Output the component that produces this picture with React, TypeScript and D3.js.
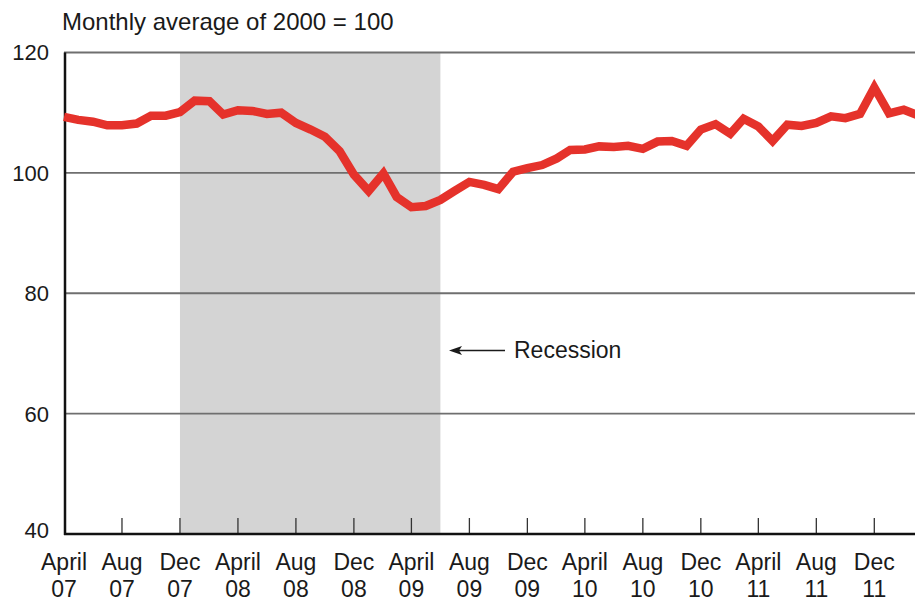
import React, { useEffect, useRef } from 'react';
import * as d3 from 'd3';

// monthly index, April 2007 .. March 2012
const startMonth = '2007-04';
const values: number[] = [
  109.3, 108.8, 108.5, 107.9, 107.9, 108.2, 109.5, 109.5, 110.1,
  112.0, 111.9, 109.7, 110.4, 110.3, 109.8, 110.0, 108.3, 107.2, 106.0, 103.6, 99.7,
  97.0, 99.9, 96.0, 94.3, 94.5, 95.5, 97.0, 98.5, 98.0, 97.3, 100.2, 100.8,
  101.3, 102.4, 103.8, 103.9, 104.4, 104.3, 104.5, 104.0, 105.2, 105.3, 104.5, 107.2,
  108.1, 106.5, 109.0, 107.7, 105.3, 108.0, 107.8, 108.3, 109.4, 109.1, 109.8, 114.2,
  109.9, 110.5, 109.6,
];

const recession = ['2007-12', '2009-06'];

const yTicks = [40, 60, 80, 100, 120];
const xTickDates = [
  '2007-04', '2007-08', '2007-12', '2008-04', '2008-08', '2008-12', '2009-04', '2009-08',
  '2009-12', '2010-04', '2010-08', '2010-12', '2011-04', '2011-08', '2011-12',
];
const xTickMonth = ['April', 'Aug', 'Dec', 'April', 'Aug', 'Dec', 'April', 'Aug', 'Dec', 'April', 'Aug', 'Dec', 'April', 'Aug', 'Dec'];
const xTickYear = ['07', '07', '07', '08', '08', '08', '09', '09', '09', '10', '10', '10', '11', '11', '11'];

const parseMonth = d3.timeParse('%Y-%m');

const Chart: React.FC = () => {
  const svgRef = useRef<SVGSVGElement>(null);

  useEffect(() => {
    if (!svgRef.current) return;
    const svg = d3.select(svgRef.current);
    svg.selectAll('*').remove();

    const W = 915;
    const H = 601;
    const font = 'Arial, "Liberation Sans", Helvetica, sans-serif';

    const start = parseMonth(startMonth)!;
    const data = values.map((v, i) => ({ date: d3.timeMonth.offset(start, i), value: v }));

    const x = d3
      .scaleTime()
      .domain([parseMonth('2007-04')!, parseMonth('2011-12')!])
      .range([64, 874.3]);
    const y = d3.scaleLinear().domain([40, 120]).range([534, 52.5]);
    const xRight = W;

    svg.attr('width', W).attr('height', H);

    svg.append('rect').attr('width', W).attr('height', H).attr('fill', '#ffffff');

    // recession shading
    svg
      .append('rect')
      .attr('x', x(parseMonth(recession[0])!))
      .attr('y', y(120))
      .attr('width', x(parseMonth(recession[1])!) - x(parseMonth(recession[0])!))
      .attr('height', y(40) - y(120))
      .attr('fill', '#d4d4d4');

    // grid lines
    svg
      .append('g')
      .selectAll('line')
      .data(yTicks.filter(t => t > 40))
      .join('line')
      .attr('x1', x.range()[0])
      .attr('x2', xRight)
      .attr('y1', d => y(d))
      .attr('y2', d => y(d))
      .attr('stroke', '#6f6f6f')
      .attr('stroke-width', 1.8);

    // y labels
    svg
      .append('g')
      .selectAll('text')
      .data(yTicks)
      .join('text')
      .attr('x', 49)
      .attr('y', d => y(d) - (d === 40 ? 4 : 0))
      .attr('dy', '0.36em')
      .attr('text-anchor', 'end')
      .attr('font-family', font)
      .attr('font-size', 22)
      .attr('fill', '#1a1a1a')
      .text(d => d);

    // x ticks
    const tickDates = xTickDates.map(d => parseMonth(d)!);
    svg
      .append('g')
      .selectAll('line')
      .data(tickDates.slice(1))
      .join('line')
      .attr('x1', d => x(d))
      .attr('x2', d => x(d))
      .attr('y1', y(40))
      .attr('y2', y(40) - 16)
      .attr('stroke', '#333')
      .attr('stroke-width', 1.3);

    const labels = svg
      .append('g')
      .selectAll('g')
      .data(tickDates)
      .join('g')
      .attr('transform', d => `translate(${x(d)},0)`);
    labels
      .append('text')
      .attr('y', 570)
      .attr('text-anchor', 'middle')
      .attr('font-family', font)
      .attr('font-size', 23)
      .attr('fill', '#1a1a1a')
      .text((d, i) => xTickMonth[i]);
    labels
      .append('text')
      .attr('y', 597)
      .attr('text-anchor', 'middle')
      .attr('font-family', font)
      .attr('font-size', 23)
      .attr('fill', '#1a1a1a')
      .text((d, i) => xTickYear[i]);

    // axes
    svg
      .append('line')
      .attr('x1', x.range()[0])
      .attr('x2', xRight)
      .attr('y1', y(40))
      .attr('y2', y(40))
      .attr('stroke', '#111')
      .attr('stroke-width', 2.5);
    svg
      .append('line')
      .attr('x1', 65)
      .attr('x2', 65)
      .attr('y1', y(120))
      .attr('y2', y(40) + 1)
      .attr('stroke', '#111')
      .attr('stroke-width', 2.5);

    // data line
    const line = d3
      .line<{ date: Date; value: number }>()
      .x(d => x(d.date))
      .y(d => y(d.value));
    svg
      .append('path')
      .datum(data)
      .attr('d', line)
      .attr('fill', 'none')
      .attr('stroke', '#e5322b')
      .attr('stroke-width', 8.5)
      .attr('stroke-linejoin', 'miter');

    // title
    svg
      .append('text')
      .attr('x', 62)
      .attr('y', 30)
      .attr('font-family', font)
      .attr('font-size', 24)
      .attr('fill', '#1a1a1a')
      .text('Monthly average of 2000 = 100');

    // recession annotation
    const ay = 350.5;
    svg
      .append('line')
      .attr('x1', 455)
      .attr('x2', 505)
      .attr('y1', ay)
      .attr('y2', ay)
      .attr('stroke', '#1a1a1a')
      .attr('stroke-width', 1.5);
    svg
      .append('path')
      .attr('d', `M449,${ay} L462,${ay - 4.5} L459,${ay} L462,${ay + 4.5} Z`)
      .attr('fill', '#1a1a1a');
    svg
      .append('text')
      .attr('x', 514)
      .attr('y', 358)
      .attr('font-family', font)
      .attr('font-size', 23)
      .attr('fill', '#1a1a1a')
      .text('Recession');
  }, []);

  return <svg ref={svgRef} style={{ position: 'absolute', left: 0, top: 0, display: 'block' }}></svg>;
};

const App = () => {
  return (
    <div>
      <Chart />
    </div>
  );
};

export default App;
